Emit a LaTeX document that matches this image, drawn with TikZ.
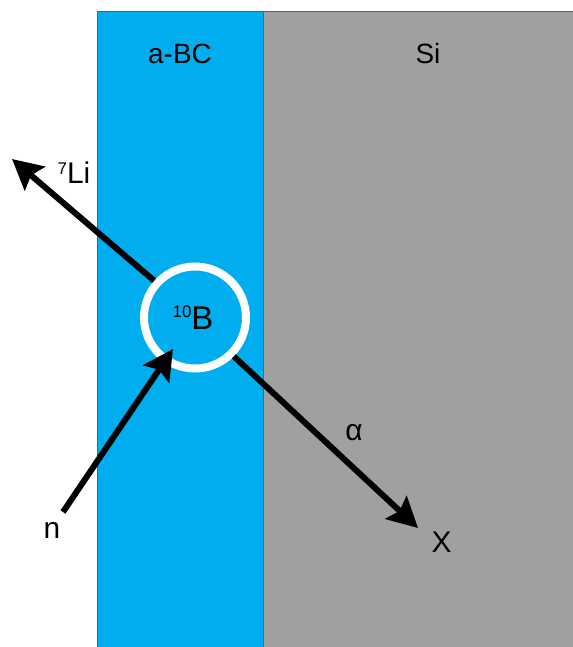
\documentclass[tikz,border=0pt]{standalone}
\usepackage{fontspec}
\setmainfont{Liberation Sans}
\usetikzlibrary{arrows.meta}
\definecolor{layerblue}{HTML}{00AEEF}
\definecolor{layergray}{HTML}{A0A0A0}
\definecolor{edgegray}{HTML}{606060}
\tikzset{
  layer/.style={draw=edgegray, line width=0.7bp},
  particle/.style={line width=6bp, -{Stealth[length=30bp, width=31bp, inset=5bp]}},
  lbl/.style={anchor=base, inner sep=0pt, text=black},
  big/.style={font=\fontsize{30}{30}\selectfont},
  mid/.style={font=\fontsize{28}{28}\selectfont},
}
\begin{document}
\begin{tikzpicture}[x=1bp, y=-1bp]
\useasboundingbox (0,0) rectangle (573,647);
\fill[white] (0,0) rectangle (573,647);
\path[layer, fill=layerblue] (97,11) rectangle (263,647);
\path[layer, fill=layergray] (263,11) rectangle (573,647);
\node[lbl, mid] (abc) at (180,64) {a-BC};
\node[lbl, mid] (si) at (428,64) {Si};
% nucleus
\node[circle, draw=white, line width=8bp, minimum size=102bp, inner sep=0pt] (B) at (195,317.5) {};
\node[lbl, font=\fontsize{33}{33}\selectfont] (Blbl) at (193,329) {{\fontsize{17}{17}\selectfont\raisebox{11.4bp}{10}}B};
% free ends
\coordinate (litip) at (12,159);
\coordinate (nstart) at (63,512);
\coordinate (ntip) at (173,349);
\coordinate (atip) at (418,528);
\draw[particle] (B.138) -- (litip);
\draw[particle] (B.-45) -- (atip);
\draw[particle] (nstart) -- (ntip);
\node[lbl, big] (li) at (74,184) {{\fontsize{17}{17}\selectfont\raisebox{9bp}{7}}Li};
\node[lbl, big] (alpha) at (354,440) {α};
\node[lbl, big] (x) at (441.5,552) {X};
\node[lbl, big] (n) at (52,538) {n};
\end{tikzpicture}
\end{document}
